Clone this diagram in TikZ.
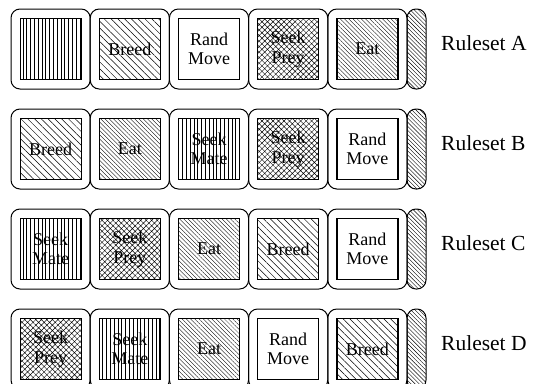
\documentclass[tikz,border=0pt]{standalone}
\usepackage{fontspec}
\setmainfont{Liberation Serif}
\usetikzlibrary{patterns.meta}
\tikzset{
  outerbox/.style={draw, line width=1pt, rounded corners=9pt},
  innerbox/.style={draw, line width=1.2pt, minimum size=61pt, inner sep=0pt, align=center,
    font=\fontsize{18}{19.5}\selectfont},
  matefill/.style={pattern={Lines[angle=90,distance=3.8pt,line width=0.5pt]}},
  breedfill/.style={pattern={Lines[angle=-45,distance=4.8pt,line width=0.5pt]}},
  eatfill/.style={pattern={Lines[angle=-45,distance=3pt,line width=0.35pt]}},
  preyfill/.style={pattern={Hatch[angle=45,distance=3.9pt,line width=0.45pt]}},
  randfill/.style={},
  tabfill/.style={pattern={Lines[angle=-45,distance=2.9pt,line width=0.4pt]}},
  rulelabel/.style={anchor=base west, inner sep=0pt, font=\fontsize{21.5}{24}\selectfont}
}
\newcommand\rulebox[4]{%
  \pgfmathsetmacro\bx{11+79.2*#2}%
  \pgfmathsetmacro\by{9+100*#1}%
  \draw[outerbox] (\bx,\by) rectangle ++(79.2,80);
  \node[innerbox,#3] (b#1#2) at (\bx+39.6,\by+40) {#4};
}
\newcommand\ruletab[2]{%
  \pgfmathsetmacro\by{9+100*#1}%
  \draw[outerbox,tabfill] (407,\by) rectangle ++(19,80);
  \node[rulelabel] (ruleset#2) at (441,\by+41) {Ruleset #2};
}
\begin{document}
\begin{tikzpicture}[x=1pt,y=-1pt]
\useasboundingbox (0,0) rectangle (538,383);
% Ruleset A
\rulebox{0}{0}{matefill}{}
\rulebox{0}{1}{breedfill}{Breed}
\rulebox{0}{2}{randfill}{Rand\\Move}
\rulebox{0}{3}{preyfill}{Seek\\Prey}
\rulebox{0}{4}{eatfill}{Eat}
\ruletab{0}{A}
% Ruleset B
\rulebox{1}{0}{breedfill}{Breed}
\rulebox{1}{1}{eatfill}{Eat}
\rulebox{1}{2}{matefill}{Seek\\Mate}
\rulebox{1}{3}{preyfill}{Seek\\Prey}
\rulebox{1}{4}{randfill}{Rand\\Move}
\ruletab{1}{B}
% Ruleset C
\rulebox{2}{0}{matefill}{Seek\\Mate}
\rulebox{2}{1}{preyfill}{Seek\\Prey}
\rulebox{2}{2}{eatfill}{Eat}
\rulebox{2}{3}{breedfill}{Breed}
\rulebox{2}{4}{randfill}{Rand\\Move}
\ruletab{2}{C}
% Ruleset D
\rulebox{3}{0}{preyfill}{Seek\\Prey}
\rulebox{3}{1}{matefill}{Seek\\Mate}
\rulebox{3}{2}{eatfill}{Eat}
\rulebox{3}{3}{randfill}{Rand\\Move}
\rulebox{3}{4}{breedfill}{Breed}
\ruletab{3}{D}
\end{tikzpicture}
\end{document}
